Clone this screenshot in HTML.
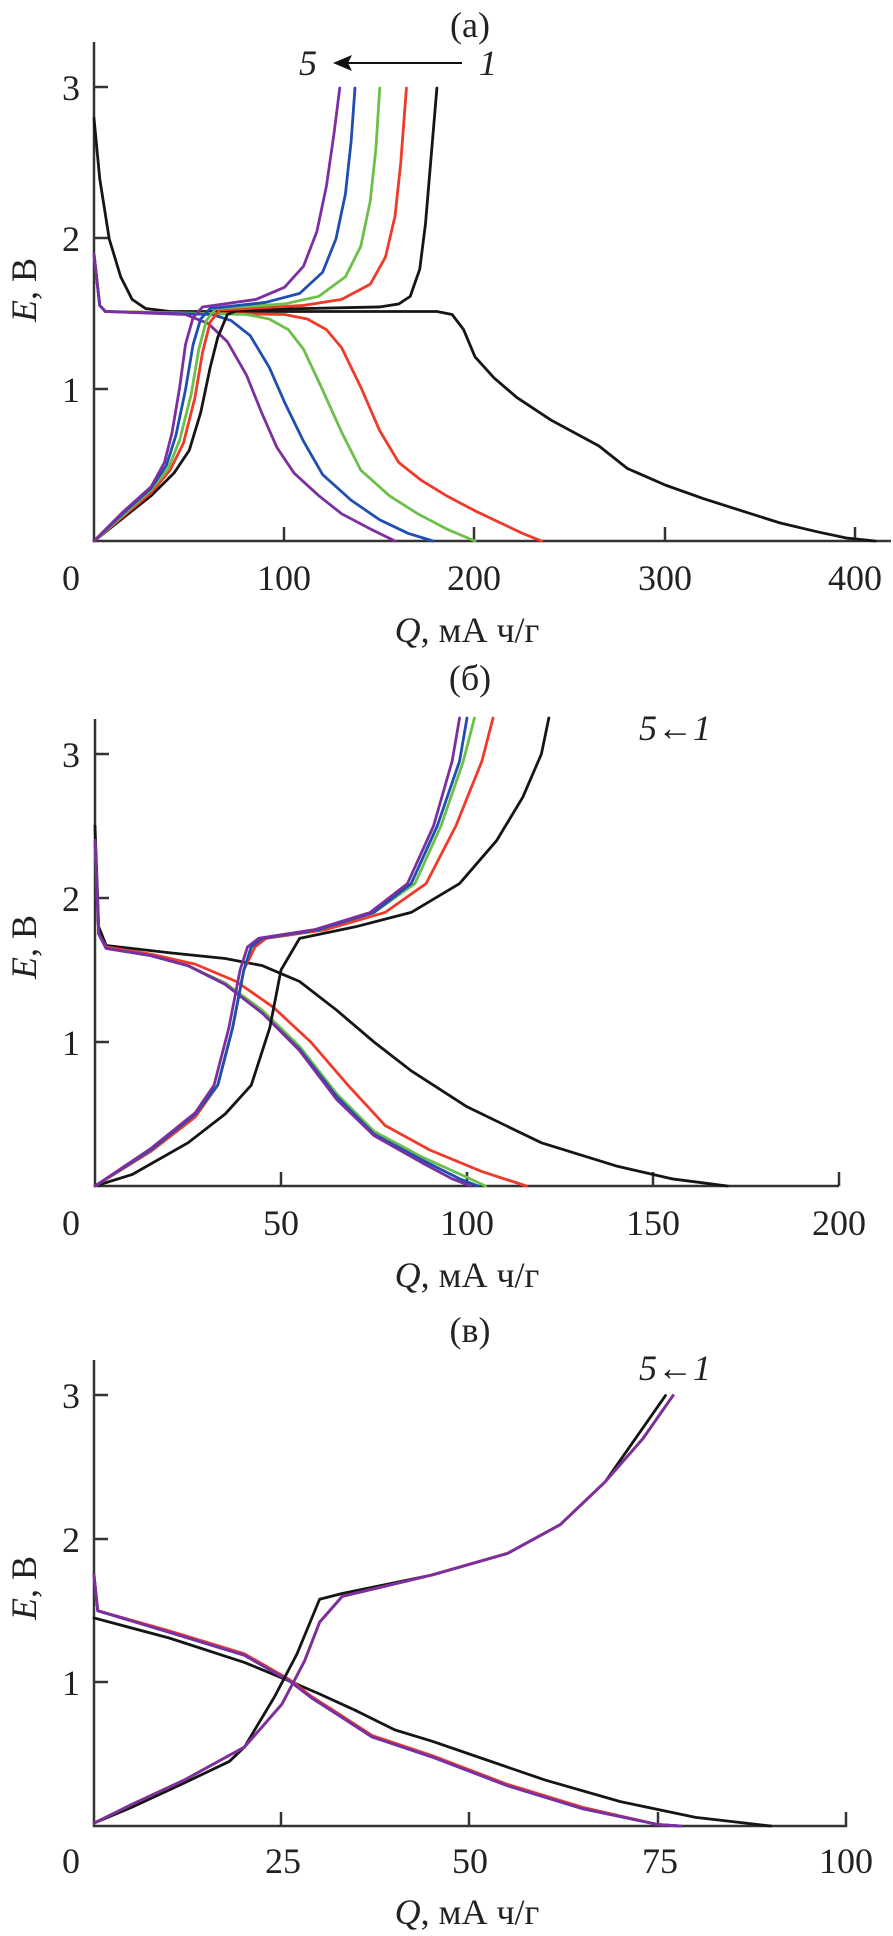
<!DOCTYPE html>
<html><head><meta charset="utf-8"><style>
html,body{margin:0;padding:0;background:#fff;}
svg{display:block;}
text{font-family:"Liberation Serif",serif;fill:#222;}
.t{font-size:36px;}
.i{font-style:italic;}
.ax{stroke:#333;stroke-width:2.5;fill:none;}
.c{fill:none;stroke-width:2.8;vector-effect:non-scaling-stroke;stroke-linejoin:round;stroke-linecap:round;}
.k{stroke:#151515}.r{stroke:#f03a2a}.g{stroke:#6cc04a}.b{stroke:#1f4fb0}.p{stroke:#7b2fa0}
</style></head><body>
<svg width="893" height="1936" viewBox="0 0 893 1936">
<!-- ===== Panel (a) ===== -->
<text class="t" x="470" y="37" text-anchor="middle">(a)</text>
<text class="t i" x="308" y="75" text-anchor="middle">5</text>
<line x1="340" y1="63" x2="462" y2="63" stroke="#111" stroke-width="2"/>
<polygon points="333,63 352,55 348,63 352,71" fill="#111"/>
<text class="t i" x="488" y="75" text-anchor="middle">1</text>
<path class="ax" d="M94,42 V541 H891"/>
<path class="ax" d="M94,87 h14 M94,238 h14 M94,389 h14 M284,541 v-14 M474,541 v-14 M665,541 v-14 M855,541 v-14"/>
<g text-anchor="middle" class="t"><text x="71" y="100">3</text><text x="71" y="251">2</text><text x="71" y="402">1</text>
<text x="71" y="590">0</text><text x="284" y="590">100</text><text x="474" y="590">200</text><text x="665" y="590">300</text><text x="855" y="590">400</text></g>
<text class="t" x="467" y="642" text-anchor="middle"><tspan class="i">Q</tspan>, мА ч/г</text>
<text class="t" transform="translate(36,290) rotate(-90)" text-anchor="middle"><tspan class="i">E</tspan>, В</text>
<g transform="matrix(1.905,0,0,-151,94,541)">
<polyline class="c k" points="0,2.8 3,2.4 8,2.0 14,1.75 20,1.6 27,1.54 40,1.52 180,1.52 188,1.5 194,1.4 200,1.22 210,1.08 222,0.95 240,0.8 265,0.63 280,0.48 300,0.37 320,0.28 340,0.2 360,0.12 380,0.06 395,0.02 410,0"/>
<polyline class="c r" points="0,1.9 3,1.56 6,1.52 100,1.5 112,1.47 122,1.4 130,1.28 140,1.02 150,0.73 160,0.52 172,0.4 185,0.3 200,0.2 215,0.11 225,0.05 235,0"/>
<polyline class="c g" points="0,1.9 3,1.56 6,1.52 80,1.5 92,1.47 102,1.4 110,1.27 120,1.0 130,0.72 140,0.47 155,0.3 170,0.18 185,0.08 200,0"/>
<polyline class="c b" points="0,1.9 3,1.56 6,1.52 62,1.5 72,1.46 82,1.36 92,1.15 100,0.92 110,0.66 120,0.44 135,0.27 150,0.14 165,0.05 178,0"/>
<polyline class="c p" points="0,1.9 3,1.56 6,1.52 48,1.5 60,1.44 70,1.32 80,1.1 88,0.85 96,0.62 105,0.45 118,0.3 130,0.18 145,0.08 158,0"/>
<polyline class="c k" points="0,0 15,0.15 30,0.3 42,0.45 50,0.6 56,0.85 61,1.15 65,1.35 70,1.5 76,1.53 150,1.55 160,1.57 166,1.62 171,1.8 174,2.1 176,2.4 178,2.7 180,3.0"/>
<polyline class="c r" points="0,0 15,0.16 30,0.32 40,0.47 47,0.65 53,0.95 57,1.25 61,1.45 66,1.53 110,1.56 130,1.6 145,1.7 153,1.88 158,2.15 161,2.5 164,3.0"/>
<polyline class="c g" points="0,0 15,0.17 30,0.34 39,0.48 45,0.67 51,0.97 55,1.27 59,1.46 64,1.54 100,1.57 118,1.62 132,1.75 140,1.95 145,2.25 148,2.6 150,3.0"/>
<polyline class="c b" points="0,0 15,0.18 30,0.35 38,0.5 43,0.7 48,1.0 52,1.3 56,1.47 61,1.54 90,1.58 108,1.64 120,1.78 127,2.0 132,2.3 135,2.65 137,3.0"/>
<polyline class="c p" points="0,0 15,0.19 30,0.36 37,0.52 41,0.72 45,1.02 48,1.3 52,1.48 57,1.55 85,1.6 100,1.68 110,1.82 117,2.05 122,2.35 126,2.7 129,3.0"/>
</g>
<!-- ===== Panel (б) ===== -->
<text class="t" x="470" y="690" text-anchor="middle">(б)</text>
<text class="t i" x="675" y="740" text-anchor="middle">5←1</text>
<path class="ax" d="M95,719 V1186 H839"/>
<path class="ax" d="M95,754 h14 M95,898 h14 M95,1042 h14 M281,1186 v-14 M467,1186 v-14 M653,1186 v-14 M839,1186 v-14"/>
<g text-anchor="middle" class="t"><text x="71" y="767">3</text><text x="71" y="911">2</text><text x="71" y="1055">1</text>
<text x="71" y="1235">0</text><text x="281" y="1235">50</text><text x="467" y="1235">100</text><text x="653" y="1235">150</text><text x="839" y="1235">200</text></g>
<text class="t" x="467" y="1287" text-anchor="middle"><tspan class="i">Q</tspan>, мА ч/г</text>
<text class="t" transform="translate(36,947) rotate(-90)" text-anchor="middle"><tspan class="i">E</tspan>, В</text>
<g transform="matrix(3.72,0,0,-144,95,1186)">
<polyline class="c k" points="0,2.5 1,1.8 3,1.67 20,1.62 35,1.58 45,1.53 55,1.42 65,1.22 75,1.0 85,0.8 100,0.55 120,0.3 140,0.14 155,0.05 170,0"/>
<polyline class="c r" points="0,2.4 1,1.75 3,1.66 15,1.61 27,1.54 38,1.42 48,1.24 58,1.0 68,0.7 78,0.42 90,0.25 104,0.1 116,0"/>
<polyline class="c g" points="0,2.4 1,1.75 3,1.65 15,1.6 25,1.53 35,1.41 45,1.22 55,0.97 65,0.64 75,0.38 88,0.2 100,0.06 105,0"/>
<polyline class="c b" points="0,2.4 1,1.75 3,1.65 15,1.6 25,1.53 35,1.4 45,1.2 55,0.95 65,0.62 75,0.36 88,0.18 98,0.05 103,0"/>
<polyline class="c p" points="0,2.4 1,1.75 3,1.65 15,1.6 25,1.53 35,1.4 45,1.2 55,0.94 65,0.6 75,0.35 88,0.16 96,0.05 101,0"/>
<polyline class="c k" points="0,0 10,0.08 25,0.3 35,0.5 42,0.7 47,1.1 50,1.5 55,1.72 70,1.8 85,1.9 98,2.1 108,2.4 115,2.7 120,3.0 122,3.25"/>
<polyline class="c r" points="0,0 15,0.24 27,0.48 33,0.7 37,1.1 40,1.5 43,1.66 46,1.72 62,1.78 78,1.9 89,2.1 97,2.5 104,2.95 107,3.25"/>
<polyline class="c g" points="0,0 15,0.25 27,0.5 33,0.7 37,1.1 40,1.5 42,1.66 45,1.72 60,1.78 75,1.9 86,2.1 93,2.5 99,2.95 102,3.25"/>
<polyline class="c b" points="0,0 15,0.25 27,0.5 33,0.7 37,1.1 40,1.5 42,1.66 45,1.72 60,1.78 75,1.9 85,2.1 92,2.5 98,2.95 100,3.25"/>
<polyline class="c p" points="0,0 15,0.26 27,0.51 32,0.7 36,1.1 39,1.5 41,1.66 44,1.72 59,1.78 74,1.9 84,2.1 91,2.5 96,2.95 98,3.25"/>
</g>
<!-- ===== Panel (в) ===== -->
<text class="t" x="470" y="1342" text-anchor="middle">(в)</text>
<text class="t i" x="675" y="1380" text-anchor="middle">5←1</text>
<path class="ax" d="M94,1360 V1826 H846 v-14"/>
<path class="ax" d="M94,1395 h14 M94,1539 h14 M94,1682 h14 M281,1826 v-14 M469,1826 v-14 M658,1826 v-14"/>
<g text-anchor="middle" class="t"><text x="71" y="1408">3</text><text x="71" y="1552">2</text><text x="71" y="1695">1</text>
<text x="71" y="1873">0</text><text x="283" y="1873">25</text><text x="470" y="1873">50</text><text x="660" y="1873">75</text><text x="846" y="1873">100</text></g>
<text class="t" x="467" y="1924" text-anchor="middle"><tspan class="i">Q</tspan>, мА ч/г</text>
<text class="t" transform="translate(36,1588) rotate(-90)" text-anchor="middle"><tspan class="i">E</tspan>, В</text>
<g transform="matrix(7.52,0,0,-143.5,94,1826)">
<polyline class="c k" points="0,1.45 10,1.31 20,1.14 26,1.01 30,0.92 35,0.8 40,0.67 45,0.59 50,0.5 60,0.32 70,0.17 80,0.06 90,0"/>
<polyline class="c r" points="0,1.75 0.5,1.5 10,1.36 20,1.2 26,1.02 29,0.9 32,0.8 37,0.63 45,0.49 55,0.29 65,0.13 75,0.01 78,0"/>
<polyline class="c b" points="0,1.75 0.5,1.5 10,1.35 20,1.19 26,1.01 29,0.89 32,0.79 37,0.62 45,0.48 55,0.28 65,0.12 75,0.01 78,0"/>
<polyline class="c p" points="0,1.75 0.5,1.5 10,1.35 20,1.19 26,1.01 29,0.89 32,0.79 37,0.62 45,0.48 55,0.28 65,0.12 75,0.01 78,0"/>
<polyline class="c k" points="0,0.02 5,0.13 12,0.3 18,0.45 20,0.55 24,0.9 27,1.2 30,1.58 33,1.62 45,1.75 55,1.9 62,2.1 68,2.4 72,2.7 76,3.0"/>
<polyline class="c g" points="0,0.02 5,0.15 12,0.32 20,0.55 25,0.85 28,1.15 30,1.42 33,1.6 45,1.75 55,1.9 62,2.1 68,2.4 73,2.7 77,3.0"/>
<polyline class="c r" points="0,0.02 5,0.15 12,0.32 20,0.55 25,0.85 28,1.15 30,1.42 33,1.6 45,1.75 55,1.9 62,2.1 68,2.4 73,2.7 77,3.0"/>
<polyline class="c p" points="0,0.02 5,0.15 12,0.32 20,0.55 25,0.85 28,1.15 30,1.42 33,1.6 45,1.75 55,1.9 62,2.1 68,2.4 73,2.7 77,3.0"/>
</g>
</svg>
</body></html>
